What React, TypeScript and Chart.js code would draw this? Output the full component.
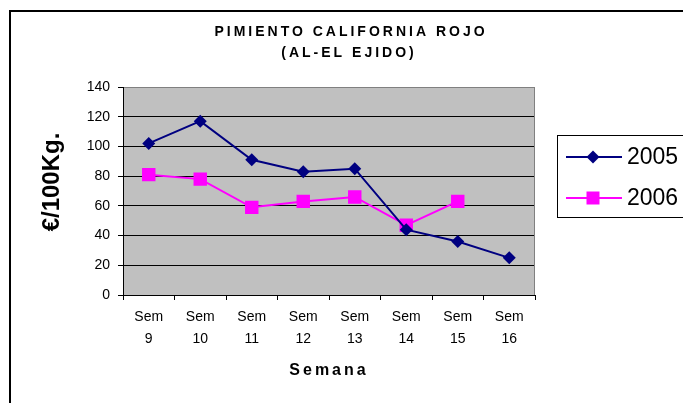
import React, { useEffect, useRef } from 'react';
import { Chart, registerables } from 'chart.js';

Chart.register(...registerables);

const TITLE_LINES = ['PIMIENTO CALIFORNIA ROJO', '(AL-EL EJIDO)'];
const Y_TITLE = '€/100Kg.';
const X_TITLE = 'Semana';
const WEEKS = ['9', '10', '11', '12', '13', '14', '15', '16'];
const CATEGORIES = WEEKS.map((w) => ['Sem', w]);
const SERIES_LABELS = ['2005', '2006'];
const SERIES_2005 = [102, 117, 91, 83, 85, 44, 36, 25];
const SERIES_2006: (number | null)[] = [81, 78, 59, 63, 66, 47, 63, null];
const Y_MIN = 0;
const Y_MAX = 140;
const Y_STEP = 20;

const FONT = '"Liberation Sans", Arial, sans-serif';
const NAVY = '#000080';
const MAGENTA = '#ff00ff';

const decorPlugin = {
  id: 'decor',
  beforeDraw(chart: any) {
    const { ctx, chartArea: a } = chart;
    ctx.save();
    ctx.fillStyle = '#c0c0c0';
    ctx.fillRect(a.left, a.top, a.right - a.left, a.bottom - a.top);
    ctx.restore();
  },
  beforeDatasetsDraw(chart: any) {
    const { ctx, chartArea: a } = chart;
    ctx.save();
    ctx.strokeStyle = '#808080';
    ctx.lineWidth = 1;
    ctx.beginPath();
    ctx.moveTo(Math.round(a.right) - 0.5, a.top);
    ctx.lineTo(Math.round(a.right) - 0.5, a.bottom);
    ctx.stroke();
    ctx.restore();
  },
  afterDraw(chart: any) {
    const { ctx } = chart;
    ctx.save();
    // outer frame
    ctx.strokeStyle = '#000';
    ctx.lineWidth = 2;
    ctx.strokeRect(10, 11, 760, 460);

    ctx.fillStyle = '#000';
    ctx.textAlign = 'center';
    ctx.textBaseline = 'middle';
    // title
    ctx.font = `bold 14px ${FONT}`;
    (ctx as any).letterSpacing = '3px';
    ctx.fillText(TITLE_LINES[0], 351, 32);
    ctx.fillText(TITLE_LINES[1], 349, 53);
    // x title
    ctx.font = `bold 16px ${FONT}`;
    (ctx as any).letterSpacing = '3px';
    ctx.fillText(X_TITLE, 329, 371);
    // y title
    (ctx as any).letterSpacing = '0px';
    ctx.save();
    ctx.translate(52, 182);
    ctx.rotate(-Math.PI / 2);
    ctx.font = `bold 24px ${FONT}`;
    ctx.fillText(Y_TITLE, 0, 0);
    ctx.restore();

    // legend
    ctx.strokeStyle = '#000';
    ctx.lineWidth = 1;
    ctx.strokeRect(557.5, 135.5, 200, 82);
    const rows = [157, 198];
    chart.data.datasets.forEach((ds: any, i: number) => {
      const y = rows[i];
      ctx.strokeStyle = ds.borderColor;
      ctx.lineWidth = 2;
      ctx.beginPath();
      ctx.moveTo(566, y);
      ctx.lineTo(622, y);
      ctx.stroke();
      ctx.fillStyle = ds.pointBackgroundColor;
      const cx = 593;
      ctx.beginPath();
      if (ds.pointStyle === 'rectRot') {
        ctx.moveTo(cx, y - 6.5);
        ctx.lineTo(cx + 6.5, y);
        ctx.lineTo(cx, y + 6.5);
        ctx.lineTo(cx - 6.5, y);
        ctx.closePath();
      } else {
        ctx.rect(cx - 6.5, y - 6.5, 13, 13);
      }
      ctx.fill();
      ctx.fillStyle = '#000';
      ctx.textAlign = 'left';
      ctx.font = `23px ${FONT}`;
      ctx.fillText(ds.label, 627, y + 1);
    });
    ctx.restore();
  },
};

export default function App() {
  const canvasRef = useRef<HTMLCanvasElement | null>(null);

  useEffect(() => {
    if (!canvasRef.current) return;
    Chart.defaults.font.family = FONT;
    const chart = new Chart(canvasRef.current, {
      type: 'line',
      data: {
        labels: CATEGORIES,
        datasets: [
          {
            label: SERIES_LABELS[0],
            data: SERIES_2005,
            borderColor: NAVY,
            backgroundColor: NAVY,
            pointBackgroundColor: NAVY,
            pointBorderColor: NAVY,
            pointStyle: 'rectRot',
            pointRadius: 6.5,
            pointBorderWidth: 0,
            borderWidth: 2,
            tension: 0,
          },
          {
            label: SERIES_LABELS[1],
            data: SERIES_2006,
            borderColor: MAGENTA,
            backgroundColor: MAGENTA,
            pointBackgroundColor: MAGENTA,
            pointBorderColor: MAGENTA,
            pointStyle: 'rect',
            pointRadius: 9.5,
            pointBorderWidth: 0,
            borderWidth: 2,
            tension: 0,
          },
        ],
      },
      options: {
        responsive: false,
        animation: false,
        layout: { padding: { left: 78, top: 87, right: 148, bottom: 38 } },
        plugins: {
          legend: { display: false },
          title: { display: false },
          tooltip: { enabled: false },
        },
        scales: {
          x: {
            type: 'category',
            offset: true,
            grid: {
              offset: true,
              drawOnChartArea: false,
              drawTicks: true,
              tickLength: 5,
              color: '#000',
              tickColor: '#000',
            },
            border: { color: '#000', width: 1 },
            ticks: {
              color: '#000',
              font: { family: FONT, size: 14, lineHeight: 22 / 14 },
              padding: 6,
              maxRotation: 0,
              autoSkip: false,
            },
            afterFit: (s: any) => {
              s.height = 70;
            },
          },
          y: {
            min: Y_MIN,
            max: Y_MAX,
            ticks: {
              stepSize: Y_STEP,
              color: '#000',
              font: { family: FONT, size: 14 },
              padding: 8,
            },
            grid: {
              color: (c: any) => (c.tick && c.tick.value === Y_MAX ? '#808080' : '#000'),
              tickColor: '#000',
              tickLength: 5,
              lineWidth: 1,
            },
            border: { color: '#000', width: 1 },
            afterFit: (s: any) => {
              s.width = 45;
            },
          },
        },
      },
      plugins: [decorPlugin],
    } as any);
    return () => chart.destroy();
  }, []);

  return (
    <div style={{ position: 'absolute', left: 0, top: 0, width: 683, height: 403, background: '#fff' }}>
      <canvas ref={canvasRef} width={683} height={403} style={{ display: 'block' }} />
    </div>
  );
}
